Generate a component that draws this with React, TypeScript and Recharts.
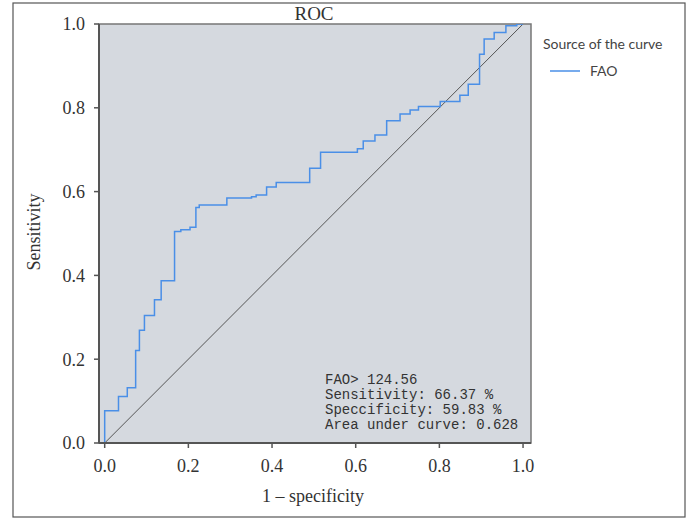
import {
  LineChart,
  Line,
  XAxis,
  YAxis,
  CartesianGrid,
  ReferenceArea,
  ReferenceLine,
  Customized,
} from "recharts";

// ROC points (1 - specificity, sensitivity)
const fpr = [
  0, 0, 0.033, 0.054, 0.074, 0.083, 0.095, 0.119, 0.135, 0.167, 0.182, 0.204,
  0.218, 0.226, 0.292, 0.351, 0.362, 0.387, 0.41, 0.49, 0.516, 0.604, 0.618,
  0.646, 0.674, 0.706, 0.73, 0.75, 0.802, 0.849, 0.869, 0.896, 0.907, 0.931,
  0.959, 0.985, 1.0,
];
const tpr = [
  0, 0.077, 0.111, 0.132, 0.221, 0.269, 0.304, 0.342, 0.387, 0.505, 0.509,
  0.515, 0.562, 0.568, 0.585, 0.588, 0.592, 0.611, 0.622, 0.656, 0.694, 0.702,
  0.721, 0.735, 0.769, 0.785, 0.795, 0.803, 0.815, 0.83, 0.856, 0.928, 0.964,
  0.98, 0.996, 1.0, 1.0,
];
const axisTicks = [0, 0.2, 0.4, 0.6, 0.8, 1.0];
const seriesName = "FAO";
const legendTitle = "Source of the curve";
const chartTitle = "ROC";
const xLabel = "1 \u2013 specificity";
const yLabel = "Sensitivity";
const statLines = [
  "FAO> 124.56",
  "Sensitivity: 66.37 %",
  "Speccificity: 59.83 %",
  "Area under curve: 0.628",
];

const rocData = fpr.map((x, i) => ({ fpr: x, tpr: tpr[i] }));

const X_MIN = -0.0136;
const X_MAX = 1.019;
const SERIF = "'Liberation Serif', 'Times New Roman', serif";
const CURVE = "#4a8fe7";

function Decorations() {
  return (
    <g>
      <rect x={13} y={3} width={672} height={514} fill="none" stroke="#555" strokeWidth={1.2} />
      <text x={314} y={20} textAnchor="middle" fontFamily={SERIF} fontSize={19} fill="#333">
        {chartTitle}
      </text>
      <text
        x={40}
        y={232}
        textAnchor="middle"
        transform="rotate(-90, 40, 232)"
        fontFamily={SERIF}
        fontSize={18}
        fill="#333"
      >
        {yLabel}
      </text>
      <text x={313} y={502} textAnchor="middle" fontFamily={SERIF} fontSize={18} fill="#333">
        {xLabel}
      </text>
      {/* legend */}
      <text x={543} y={49} fontFamily="Lato, 'Noto Sans', sans-serif" fontSize={14} fill="#444">
        {legendTitle}
      </text>
      <line x1={550} x2={580} y1={71} y2={71} stroke={CURVE} strokeWidth={1.5} />
      <text x={590} y={76} fontFamily="Lato, 'Noto Sans', sans-serif" fontSize={14} fill="#444">
        {seriesName}
      </text>
      {/* cut-off annotation */}
      {statLines.map((s, i) => (
        <text
          key={s}
          x={325}
          y={384 + i * 15}
          fontFamily="'Liberation Mono', 'DejaVu Sans Mono', monospace"
          fontSize={14}
          fill="#333"
          style={{ whiteSpace: "pre" }}
        >
          {s}
        </text>
      ))}
    </g>
  );
}

export default function App() {
  return (
    <div style={{ position: "absolute", left: 0, top: 0, width: 693, height: 519, background: "#fff" }}>
      <LineChart
        width={693}
        height={519}
        data={rocData}
        margin={{ top: 24, right: 162, bottom: 0, left: 0 }}
      >
        <CartesianGrid fill="#d5d9df" stroke="none" horizontal={false} vertical={false} />
        <ReferenceArea
          x1={X_MIN}
          x2={X_MAX}
          y1={0}
          y2={1}
          fill="none"
          fillOpacity={0}
          stroke="#777"
          strokeWidth={1.5}
        />
        <XAxis
          type="number"
          dataKey="fpr"
          domain={[X_MIN, X_MAX]}
          ticks={axisTicks}
          tickFormatter={(v: number) => v.toFixed(1)}
          height={76}
          tickSize={5}
          tickMargin={11}
          allowDataOverflow
          axisLine={{ stroke: "#555", strokeWidth: 2 }}
          tickLine={{ stroke: "#555", strokeWidth: 1.5 }}
          tick={{ fontFamily: SERIF, fontSize: 18, fill: "#333" }}
        />
        <YAxis
          type="number"
          domain={[0, 1]}
          ticks={axisTicks}
          tickFormatter={(v: number) => v.toFixed(1)}
          width={99}
          tickSize={5}
          tickMargin={9}
          allowDataOverflow
          axisLine={{ stroke: "#555", strokeWidth: 2 }}
          tickLine={{ stroke: "#555", strokeWidth: 1.5 }}
          tick={{ fontFamily: SERIF, fontSize: 18, fill: "#333" }}
        />
        <ReferenceLine
          segment={[
            { x: 0, y: 0 },
            { x: 1, y: 1 },
          ]}
          stroke="#555"
          strokeWidth={1}
        />
        <Line
          type="stepAfter"
          dataKey="tpr"
          name={seriesName}
          stroke={CURVE}
          strokeWidth={1.5}
          dot={false}
          isAnimationActive={false}
        />
        <Customized component={Decorations} />
      </LineChart>
    </div>
  );
}
